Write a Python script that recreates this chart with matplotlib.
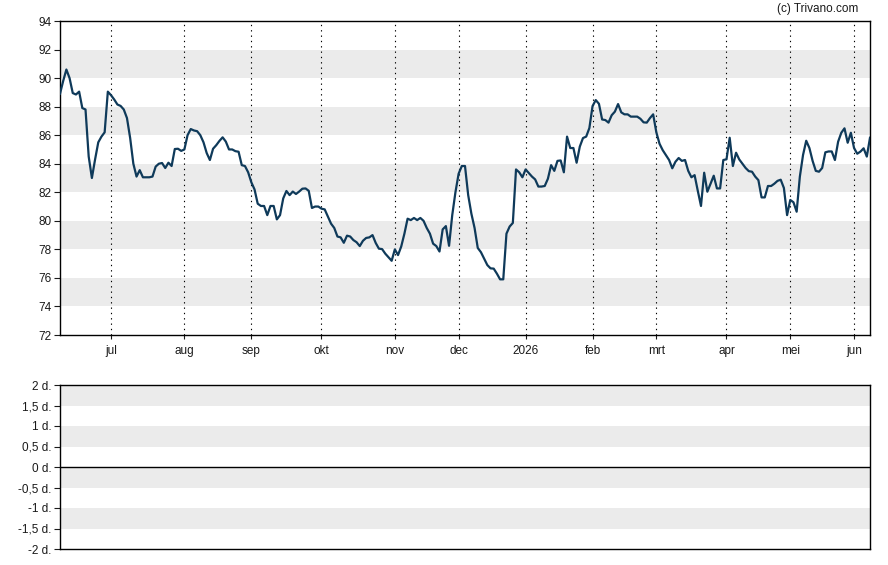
import numpy as np
import pandas as pd
import matplotlib
matplotlib.use("Agg")
import matplotlib.pyplot as plt

plt.rcParams['font.family'] = ['Liberation Sans', 'DejaVu Sans']

# ---- data -------------------------------------------------------------
start_date = "2025-06-09"
end_date = "2026-06-08"
holidays = ["2025-12-25", "2025-12-26", "2026-01-01",
            "2026-04-03", "2026-04-06", "2026-05-01"]

close = [
    88.9, 89.8, 90.6, 90.0, 88.95, 88.85, 89.05, 87.9, 87.8, 84.5,
    83.0, 84.3, 85.5, 85.9, 86.2, 89.05, 88.8, 88.5, 88.15, 88.05,
    87.8, 87.2, 85.8, 84.0, 83.1, 83.55, 83.05, 83.05, 83.05, 83.1,
    83.8, 84.0, 84.05, 83.7, 84.07, 83.84, 85.03, 85.05, 84.9, 85.0,
    86.0, 86.43, 86.33, 86.28, 86.0, 85.5, 84.75, 84.26, 85.05, 85.3,
    85.6, 85.85, 85.55, 85.0, 85.0, 84.88, 84.84, 83.9, 83.84, 83.4,
    82.7, 82.2, 81.2, 81.04, 81.04, 80.4, 81.04, 81.04, 80.1, 80.4,
    81.57, 82.09, 81.8, 82.05, 81.88, 82.05, 82.25, 82.27, 82.1, 80.9,
    81.0, 81.0, 80.85, 80.8, 80.3, 79.8, 79.5, 78.9, 78.84, 78.46,
    78.96, 78.9, 78.65, 78.5, 78.23, 78.6, 78.8, 78.84, 79.0, 78.45,
    78.05, 78.02, 77.7, 77.45, 77.2, 78.0, 77.6, 78.2, 79.1, 80.15,
    80.05, 80.2, 80.05, 80.2, 80.0, 79.5, 79.1, 78.4, 78.23, 77.85,
    79.4, 79.63, 78.25, 80.4, 82.0, 83.3, 83.84, 83.84, 81.8, 80.5,
    79.5, 78.1, 77.8, 77.35, 76.9, 76.67, 76.65, 76.3, 75.9, 75.9,
    79.1, 79.6, 79.85, 83.6, 83.4, 83.05, 83.6, 83.35, 83.1, 82.9,
    82.4, 82.4, 82.44, 82.95, 83.9, 83.5, 84.2, 84.23, 83.4, 85.9,
    85.1, 85.1, 84.07, 85.2, 85.8, 85.9, 86.5, 88.04, 88.46, 88.2,
    87.1, 87.06, 86.88, 87.4, 87.65, 88.18, 87.6, 87.46, 87.46, 87.3,
    87.3, 87.3, 87.15, 86.9, 86.88, 87.2, 87.46, 86.2, 85.4, 84.95,
    84.6, 84.26, 83.68, 84.14, 84.4, 84.2, 84.26, 83.5, 83.05, 83.2,
    82.1, 81.04, 83.37, 82.04, 82.6, 83.16, 82.27, 82.27, 84.26, 84.31,
    85.82, 83.84, 84.77, 84.3, 84.0, 83.7, 83.48, 83.44, 83.1, 82.85,
    81.64, 81.64, 82.44, 82.44, 82.6, 82.8, 82.88, 82.3, 80.4, 81.46,
    81.3, 80.64, 83.09, 84.61, 85.61, 85.1, 84.2, 83.5, 83.44, 83.7,
    84.8, 84.86, 84.86, 84.26, 85.54, 86.17, 86.48, 85.47, 86.17, 85.1,
    84.7, 84.85, 85.08, 84.5, 85.82,
]

month_labels = ["jul", "aug", "sep", "okt", "nov", "dec", "2026",
                "feb", "mrt", "apr", "mei", "jun"]

y_ticks_main = [72, 74, 76, 78, 80, 82, 84, 86, 88, 90, 92, 94]
y_ticks_sub = [2, 1.5, 1, 0.5, 0, -0.5, -1, -1.5, -2]
y_labels_sub = ["2 d.", "1,5 d.", "1 d.", "0,5 d.", "0 d.", "-0,5 d.",
                "-1 d.", "-1,5 d.", "-2 d."]

# ---- trading calendar ---------------------------------------------------
days = pd.bdate_range(start_date, end_date)
days = days[~days.isin(pd.to_datetime(holidays))]
n = min(len(days), len(close))
days = days[:n]
vals = np.array(close[:n])
idx = np.arange(n)

periods = days.to_period("M")
month_pos = [i for i in range(1, n) if periods[i] != periods[i - 1]]

# ---- figure -------------------------------------------------------------
W, H = 888, 565
fig = plt.figure(figsize=(W / 100, H / 100), dpi=100)
fig.patch.set_facecolor("white")

band = "#ebebeb"
line_col = "#0f3a5a"
text_col = "#1a1a1a"

ax = fig.add_axes([60 / W, (H - 335) / H, 810 / W, 314 / H])
ax.set_xlim(0, n - 1)
ax.set_ylim(72, 94)
for lo in range(74, 94, 4):
    ax.axhspan(lo, lo + 2, color=band, lw=0, zorder=0)
for p in month_pos:
    ax.axvline(p, color="black", lw=0.8, ls=(0, (1.2, 3.6)), zorder=1)
ax.plot(idx, vals, color=line_col, lw=1.6, zorder=3, solid_joinstyle="round")

ax.set_yticks(y_ticks_main)
ax.set_yticklabels([str(v) for v in y_ticks_main])
ax.set_xticks(month_pos)
ax.set_xticklabels(month_labels[:len(month_pos)])
ax.tick_params(axis="y", length=4, width=0.8, labelsize=8.5, colors=text_col, pad=2)
ax.tick_params(axis="x", length=3, width=0.8, labelsize=8.5, colors=text_col, pad=4)
for s in ax.spines.values():
    s.set_color("black")
    s.set_linewidth(1.0)

fig.text(858 / W, 1 - 9 / H, "(c) Trivano.com", ha="right", va="center",
         fontsize=8.5, color=text_col)

# ---- lower panel --------------------------------------------------------
ax2 = fig.add_axes([60 / W, 16 / H, 810 / W, 164 / H])
ax2.set_xlim(0, n - 1)
ax2.set_ylim(-2, 2)
for lo in [1.5, 0.5, -0.5, -1.5]:
    ax2.axhspan(lo, lo + 0.5, color=band, lw=0, zorder=0)
ax2.axhline(0, color="black", lw=1.0, zorder=2)
ax2.set_yticks(y_ticks_sub)
ax2.set_yticklabels(y_labels_sub)
ax2.set_xticks([])
ax2.tick_params(axis="y", length=4, width=0.8, labelsize=8.5, colors=text_col, pad=2)
for s in ax2.spines.values():
    s.set_color("black")
    s.set_linewidth(1.0)

fig.savefig("out.png", dpi=100, facecolor="white")
